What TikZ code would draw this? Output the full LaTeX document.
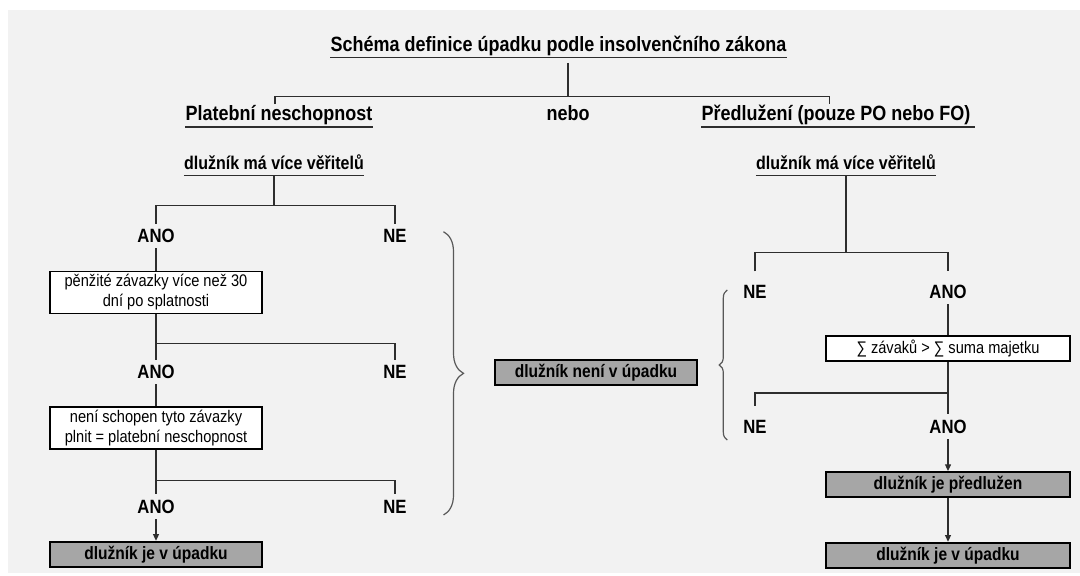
\documentclass[tikz,border=0pt]{standalone}
\usepackage{fontspec}
\setmainfont{Liberation Sans}[FakeStretch=0.87]
\usetikzlibrary{arrows.meta,decorations.pathreplacing}
\definecolor{bgcol}{HTML}{F2F2F2}
\definecolor{fillgrey}{HTML}{A6A6A6}
\definecolor{linecol}{HTML}{2E2E2E}
\tikzset{
  conn/.style={draw=linecol, line width=0.9pt},
  arr/.style={conn, -{Triangle[length=5pt,width=4.5pt]}},
  uline/.style={draw=linecol, line width=0.9pt},
  head/.style={font=\fontsize{15.5}{18}\selectfont\bfseries, inner xsep=0pt, inner ysep=1.1pt, text height=11.2pt, text depth=3.4pt},
  sub/.style={font=\fontsize{13.8}{16}\selectfont\bfseries, inner xsep=0pt, inner ysep=1.1pt, text height=9.9pt, text depth=3pt},
  lbl/.style={font=\fontsize{14.4}{16}\selectfont\bfseries, inner sep=3.9pt, text height=10.3pt, text depth=0pt},
  wbox/.style={draw=black, fill=white, line width=1.1pt, align=center, inner sep=1pt, font=\fontsize{12.6}{15}\selectfont},
  gbox/.style={draw=black, fill=fillgrey, line width=1.5pt, inner sep=1pt, font=\fontsize{13.4}{15}\selectfont\bfseries},
  brc/.style={draw=linecol!80, line width=0.9pt, decorate},
}

\begin{document}
\begin{tikzpicture}[x=0.75pt, y=-0.75pt]
\useasboundingbox (0,0) rectangle (1080,575);
\fill[bgcol] (8,9.5) rectangle (1080,573);

% nadpisy
\node[head] (title) at (558.5,46.3) {Schéma definice úpadku podle insolvenčního zákona};
\node[head] (pn) at (279,115.5) {Platební neschopnost};
\node[head] (nebo) at (568,115.5) {nebo};
\node[head] (pr) at (836,115.5) {Předlužení (pouze PO nebo FO)};
\node[sub] (dlA) at (274,165) {dlužník má více věřitelů};
\node[sub] (dlB) at (846,165) {dlužník má více věřitelů};
\foreach \n in {title,pn,dlA,dlB}
  \draw[uline] (\n.south west) -- (\n.south east);
\draw[uline] (pr.south west) -- ([xshift=3pt]pr.south east);

\draw[conn] (title.south -| nebo) ++(0,5) -- ++(0,34) coordinate (f0);
\draw[conn] ([xshift=-3pt]pn.north) |- (f0) -| ([xshift=-5pt]pr.north);

% platebni neschopnost
\node[lbl] (anoA1) at (156,236) {ANO};
\node[lbl] (neA1) at (395,236) {NE};
\node[wbox, minimum width=159pt, minimum height=31.5pt] (boxA1) at (156,292.4) {pěnžité závazky více než 30\\dní po splatnosti};
\node[lbl] (anoA2) at (156,372) {ANO};
\node[lbl] (neA2) at (395,372) {NE};
\node[wbox, minimum width=159pt, minimum height=31.5pt] (boxA2) at (156,428) {není schopen tyto závazky\\plnit = platební neschopnost};
\node[lbl] (anoA3) at (156,506.7) {ANO};
\node[lbl] (neA3) at (395,506.7) {NE};
\node[gbox, minimum width=159pt, minimum height=19pt] (endA) at (156,554.4) {dlužník je v úpadku};

\draw[conn] (dlA.south) -- ++(0,30.4) coordinate (fA1);
\draw[conn] (anoA1.north) |- (fA1) -| (neA1.north);
\draw[conn] (anoA1) -- (boxA1);
\draw[conn] (boxA1) -- (anoA2);
\draw[conn] (boxA1.south) ++(0,29) -| (neA2.north);
\draw[conn] (anoA2) -- (boxA2);
\draw[conn] (boxA2) -- (anoA3);
\draw[conn] (boxA2.south) ++(0,31) -| (neA3.north);
\draw[arr] (anoA3) -- (endA);

% stred
\node[gbox, minimum width=151.5pt, minimum height=18.75pt] (mid) at (596,372.5) {dlužník není v úpadku};
\draw[brc, decoration={brace, amplitude=15pt}] (443.5,231.7) -- (443.5,515);
\draw[brc, decoration={brace, amplitude=6pt}] (727.3,440) -- (727.3,290);

% predluzeni
\node[lbl] (neB1) at (755,291.7) {NE};
\node[lbl] (anoB1) at (948,291.7) {ANO};
\node[wbox, minimum width=182.7pt, minimum height=18.75pt] (boxB1) at (948,348.7) {∑ závaků > ∑ suma majetku};
\node[lbl] (neB2) at (755,426.7) {NE};
\node[lbl] (anoB2) at (948,426.7) {ANO};
\node[gbox, minimum width=182.7pt, minimum height=18.75pt] (predl) at (948,484.5) {dlužník je předlužen};
\node[gbox, minimum width=182.7pt, minimum height=18.75pt] (endB) at (948,555.2) {dlužník je v úpadku};

\draw[conn] (dlB.south) -- ++(0,77.4) coordinate (fB1);
\draw[conn] ([yshift=6pt]neB1.north) |- (fB1) -| ([yshift=6pt]anoB1.north);
\draw[conn] (anoB1) -- (boxB1);
\draw[conn] (boxB1) -- (anoB2);
\draw[conn] (boxB1.south) ++(0,31) -| ([yshift=6pt]neB2.north);
\draw[arr] (anoB2) -- (predl);
\draw[arr] (predl) -- (endB);
\end{tikzpicture}
\end{document}
